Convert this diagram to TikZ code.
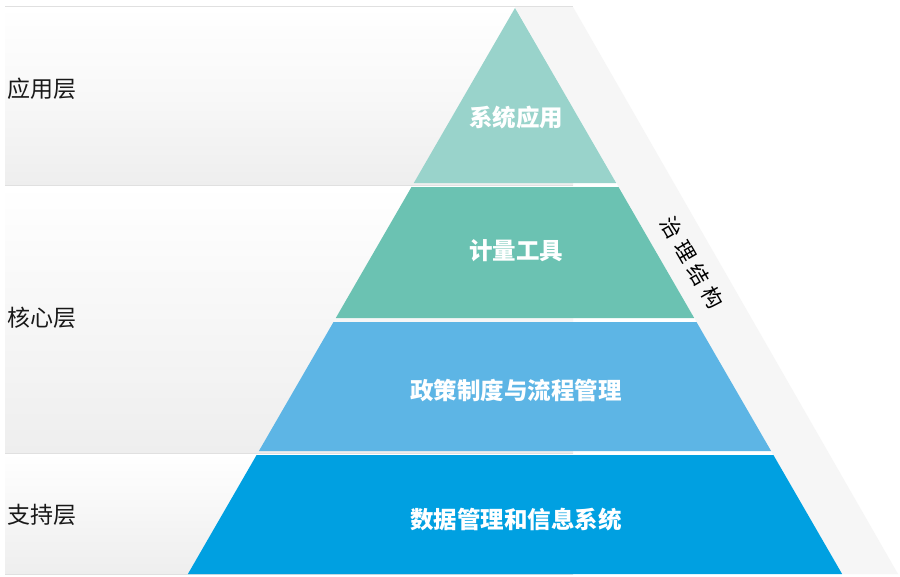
\documentclass[tikz,border=0pt]{standalone}
\usepackage{fontspec}
\newfontfamily\cjk{Noto Sans CJK SC}
\begin{document}
\begin{tikzpicture}[x=1pt,y=-1pt,
  band/.style={draw=black!12,line width=0.8pt},
  sidelabel/.style={font=\cjk\fontsize{23}{27}\selectfont,anchor=west,text=black!90},
  layerlabel/.style={font=\cjk\bfseries\fontsize{23.5}{27}\selectfont,text=white},
]
\definecolor{c1}{HTML}{99D3CB}
\definecolor{c2}{HTML}{6BC2B2}
\definecolor{c3}{HTML}{5DB5E5}
\definecolor{c4}{HTML}{00A0E1}
\definecolor{shadowgrey}{HTML}{F6F6F6}
\definecolor{bandgrey}{HTML}{EEEEEE}
\useasboundingbox (0,0) rectangle (900,576);
\fill[white] (0,0) rectangle (900,576);
% bands
\shade[top color=white,bottom color=bandgrey,middle color=white!60!bandgrey] (5,6) rectangle (573,185);
\shade[top color=white,bottom color=bandgrey] (5,185) rectangle (573,453);
\shade[top color=white,bottom color=bandgrey] (5,453) rectangle (573,574);
\draw[band] (5,6) -- (573,6);
\draw[band] (5,185) -- (573,185);
\draw[band] (5,453) -- (573,453);
\draw[band] (5,574) -- (573,574);
% shadow
\fill[shadowgrey] (515,7) -- (573,7) -- (898,574) -- (842,574) -- cycle;
% pyramid layers
\fill[c1] (515,8) -- (616.2,183) -- (413.8,183) -- cycle;
\fill[c2] (411.5,187) -- (618.5,187) -- (694.2,318) -- (335.8,318) -- cycle;
\fill[c3] (333.5,322) -- (696.5,322) -- (771.1,451) -- (258.9,451) -- cycle;
\fill[c4] (256.6,455) -- (773.4,455) -- (842.1,574) -- (187.9,574) -- cycle;
% labels
\node[layerlabel] (l1) at (516,118) {系统应用};
\node[layerlabel] (l2) at (516,251) {计量工具};
\node[layerlabel] (l3) at (516,390) {政策制度与流程管理};
\node[layerlabel] (l4) at (516,520) {数据管理和信息系统};
\node[sidelabel] (s1) at (4,89) {应用层};
\node[sidelabel] (s2) at (4,318) {核心层};
\node[sidelabel] (s3) at (4,515) {支持层};
\node[font=\cjk\fontsize{21}{24}\selectfont,rotate=-60,text=black,inner sep=0pt] (gov) at (692,263) {治\hspace{6pt}理\hspace{6pt}结\hspace{6pt}构};
\end{tikzpicture}
\end{document}
